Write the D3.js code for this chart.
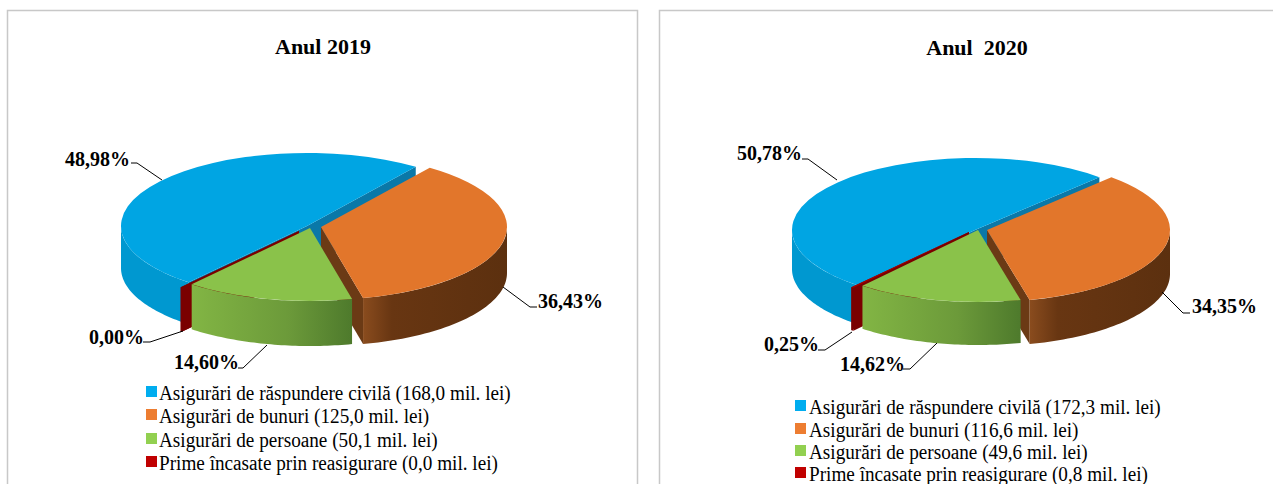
<!DOCTYPE html>
<html><head><meta charset="utf-8">
<script src="https://cdn.jsdelivr.net/npm/d3@7"></script>
<style>html,body{margin:0;padding:0;background:#fff}svg{display:block}text{font-family:"Liberation Serif",serif;fill:#000}</style>
</head><body><svg id="c" width="1273" height="484"></svg>
<script>
const categories = ["Asigurări de răspundere civilă","Asigurări de bunuri","Asigurări de persoane","Prime încasate prin reasigurare"];
const titles = ["Anul 2019","Anul  2020"];
const values2019 = [168.0,125.0,50.1,0.0];
const values2020 = [172.3,116.6,49.6,0.8];
const percentLabels2019 = ["48,98%","36,43%","14,60%","0,00%"];
const percentLabels2020 = ["50,78%","34,35%","14,62%","0,25%"];
const topColors = ["#00A5E3","#E2762B","#8AC24A","#A80000"];
const swatchColors = ["#00ADEF","#ED7D31","#92D050","#C00000"];
const sideStops = [
 [["0%","#0098D0"],["100%","#0098D0"]],
 [["0%","#8A4C1E"],["20%","#683612"],["100%","#5C300F"]],
 [["0%","#82B544"],["60%","#6C9A3A"],["100%","#4E7A2C"]],
 [["0%","#7A0000"],["100%","#7A0000"]]];
const cutColors = ["#0A78A8","#6B3A15","#5A7F30","#7A0000"];

const panels = [
 {values:values2019,labels:percentLabels2019,title:titles[0],titleX:323,titleY:54,start:219.5,rx:186,ry:73,
  centers:[[307,226],[321,227],[310,228],[299,231]],depths:[42,46,45,45],
  leaders:[[[131,163],[137,163],[162,180]],[[503,287],[530,307],[537,307]],[[267,345],[243,368],[238,368]],[[183,331],[150,342],[143,342]]],
  labelPos:[[65,166],[538,308],[174,369],[89,344]],
  legendSwatchX:146,legendY:[386,409,433,456],legendTextX:159,legendBase:[400,423,447,470]},
 {values:values2020,labels:percentLabels2020,title:titles[1],titleX:977,titleY:55,start:220,rx:183,ry:72,
  centers:[[975,230],[987,230],[978,230],[969,232]],depths:[39,44,43,43],
  leaders:[[[802,159],[808,159],[837,180]],[[1162,292],[1183,313],[1190,313]],[[937,343],[910,369],[903,369]],[[852,332],[825,350],[818,350]]],
  labelPos:[[737,160],[1192,313],[840,371],[764,351]],
  legendSwatchX:795,legendY:[400,423,445,467],legendTextX:809,legendBase:[414,437,459,481]}
];

const svg = d3.select("#c");
const defs = svg.append("defs");
const rad = d=>d*Math.PI/180;
svg.append("path").attr("d","M7.5,484V10.5H637.5V484").attr("fill","none").attr("stroke","#C8C8C8").attr("stroke-width",1.5);
svg.append("path").attr("d","M659.5,484V10.5H1273").attr("fill","none").attr("stroke","#C8C8C8").attr("stroke-width",1.5);

panels.forEach((p,pi)=>{
  const g = svg.append("g");
  g.append("text").attr("x",p.titleX).attr("y",p.titleY).attr("text-anchor","middle").attr("xml:space","preserve")
   .style("white-space","pre").attr("font-weight","bold").attr("font-size",22).text(p.title);
  const pie = d3.pie().sort(null).startAngle(rad(p.start)).endAngle(rad(p.start+360));
  const arcs = pie(p.values);
  const pt = (i,a,drop=0)=>{const [cx,cy]=p.centers[i];return [cx+p.rx*Math.sin(a),cy-p.ry*Math.cos(a)+drop];};
  const line = d3.line();
  [0,3,1,2].forEach(i=>{
    const a=arcs[i],[cx,cy]=p.centers[i],dp=p.depths[i];
    const sg=g.append("g");
    [a.startAngle,a.endAngle].forEach(ang=>{
      if(i===1&&ang===a.startAngle)return;
      if(i===2)return;
      const r=pt(i,ang),rb=pt(i,ang,dp);
      sg.append("path").attr("d",line([[cx,cy],r,rb,[cx,cy+dp]])+"Z").attr("fill",cutColors[i]);
    });
    const wrap=a.startAngle>=2*Math.PI?2*Math.PI:0;
    const lo=Math.max(a.startAngle-wrap,rad(90)),hi=Math.min(a.endAngle-wrap,rad(270));
    if(hi>lo){
      const n=48, ang=d3.range(n+1).map(k=>lo+(hi-lo)*k/n);
      const top=ang.map(t=>pt(i,t)), bot=ang.map(t=>pt(i,t,dp)).reverse();
      const xs=top.map(d=>d[0]);
      const id=`side${pi}_${i}`;
      const lg=defs.append("linearGradient").attr("id",id).attr("gradientUnits","userSpaceOnUse")
        .attr("x1",d3.min(xs)).attr("x2",d3.max(xs)).attr("y1",0).attr("y2",0);
      sideStops[i].forEach(s=>lg.append("stop").attr("offset",s[0]).attr("stop-color",s[1]));
      sg.append("path").attr("d",line(top.concat(bot))+"Z").attr("fill",`url(#${id})`);
    }
    const arcGen=d3.arc().innerRadius(0).outerRadius(p.rx);
    sg.append("path").attr("d",arcGen(a)).attr("transform",`translate(${cx},${cy}) scale(1,${p.ry/p.rx})`).attr("fill",topColors[i]);
  });
  p.leaders.forEach(l=>g.append("path").attr("d",line(l)).attr("fill","none").attr("stroke","#000").attr("stroke-width",1));
  p.labels.forEach((t,i)=>g.append("text").attr("x",p.labelPos[i][0]).attr("y",p.labelPos[i][1]).attr("font-weight","bold").attr("font-size",20).text(t));
  categories.forEach((c,i)=>{
    g.append("rect").attr("x",p.legendSwatchX).attr("y",p.legendY[i]).attr("width",11).attr("height",11).attr("fill",swatchColors[i]);
    const val=p.values[i].toFixed(1).replace(".",",");
    g.append("text").attr("transform",`translate(${p.legendTextX},${p.legendBase[i]}) scale(0.96,1)`).attr("font-size",20).text(`${c} (${val} mil. lei)`);
  });
});
</script></body></html>
